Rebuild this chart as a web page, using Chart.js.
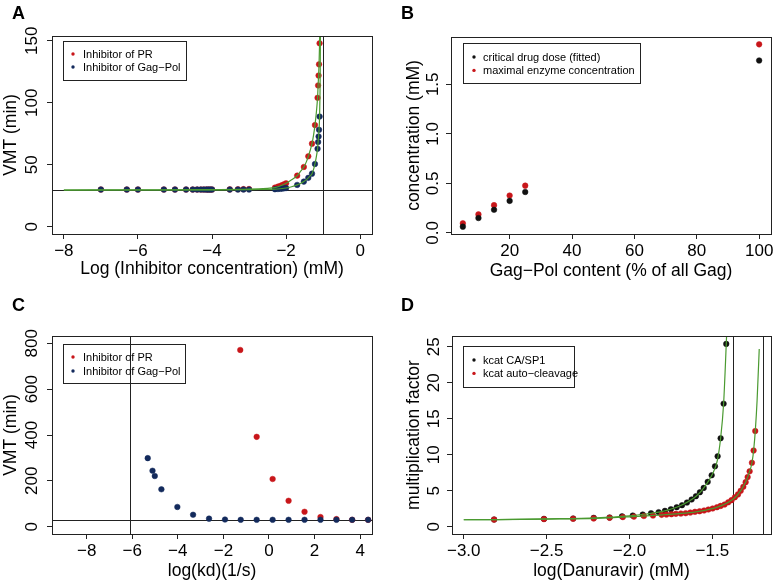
<!DOCTYPE html>
<html>
<head>
<meta charset="utf-8">
<script src="https://cdn.jsdelivr.net/npm/chart.js@4.4.1/dist/chart.umd.min.js"></script>
<style>
  body { margin: 0; background: #fff; }
  .panel { position: absolute; }
</style>
</head>
<body>
<div class="panel" style="left:0;top:0"><canvas id="chartA" width="389" height="292"></canvas></div>
<div class="panel" style="left:389px;top:0"><canvas id="chartB" width="388" height="292"></canvas></div>
<div class="panel" style="left:0;top:292px"><canvas id="chartC" width="389" height="292"></canvas></div>
<div class="panel" style="left:389px;top:292px"><canvas id="chartD" width="388" height="292"></canvas></div>
<script>
// --- Panel A: VMT vs log inhibitor concentration ---
const aConc = [-7.0, -6.3, -6.0, -5.3, -5.0, -4.7, -4.52, -4.4, -4.3, -4.22, -4.15, -4.1, -4.05, -4.0,
  -3.52, -3.3, -3.15, -3.0, -2.3, -2.22, -2.15, -2.1, -2.05, -2.0,
  -1.70, -1.52, -1.40, -1.30, -1.22, -1.15, -1.135, -1.122, -1.11, -1.095];
const aVmtPR = [30, 30, 30, 30, 30, 30, 30, 30, 30, 30, 30, 30, 30, 30,
  30.1, 30.2, 30.3, 30.4, 31.5, 32.3, 33.0, 33.6, 34.3, 35.0,
  41.2, 48.2, 56.8, 67.0, 82.0, 104, 114, 122, 131, 148];
const aVmtGP = [30, 30, 30, 30, 30, 30, 30, 30, 30, 30, 30, 30, 30, 30,
  30, 30, 30, 30, 30.2, 30.4, 30.6, 30.8, 31.0, 31.2,
  33.7, 36.4, 39.4, 42.8, 50.6, 62.9, 68.3, 72.8, 78.2, 88.9];
const aFitPRx = [-8, -6, -4, -3, -2.5, -2.3, -2.15, -2.0, -1.85, -1.70, -1.60, -1.52, -1.45, -1.40, -1.35,
  -1.30, -1.26, -1.22, -1.18, -1.15, -1.135, -1.122, -1.11, -1.095, -1.085];
const aFitPRy = [29.6, 29.7, 29.9, 30.3, 31.0, 31.5, 33.0, 35.0, 37.8, 41.2, 45.0, 48.2, 52.5, 56.8, 61.5,
  67.0, 73.5, 82.0, 93.0, 104, 114, 122, 131, 148, 165];
const aFitGPx = [-8, -6, -4, -3, -2.5, -2.3, -2.0, -1.85, -1.70, -1.60, -1.52, -1.45, -1.40, -1.35, -1.30,
  -1.26, -1.22, -1.18, -1.15, -1.135, -1.122, -1.11, -1.095, -1.085, -1.078, -1.072];
const aFitGPy = [29.5, 29.6, 29.7, 29.9, 30.1, 30.2, 31.2, 32.2, 33.7, 35.0, 36.4, 38.0, 39.4, 41.0, 42.8,
  46.0, 50.6, 57.0, 62.9, 68.3, 72.8, 78.2, 88.9, 105, 125, 160];
const aXTicks = [-8, -6, -4, -2, 0];
const aYTicks = [0, 50, 100, 150];
const aVLines = [-1.0];
const aHLines = [30];

// --- Panel B: concentration vs Gag-Pol content ---
const bGagPol = [5, 10, 15, 20, 25, 100];
const bCritical = [0.063, 0.15, 0.233, 0.323, 0.413, 1.74];
const bMaxEnzyme = [0.097, 0.187, 0.28, 0.377, 0.477, 1.903];
const bXTicks = [20, 40, 60, 80, 100];
const bYTicks = [0, 0.5, 1.0, 1.5];

// --- Panel C: VMT vs log(kd) ---
const cKdGP = [-5.32, -5.11, -5.01, -4.72, -4.02, -3.33, -2.63, -1.93, -1.24, -0.54, 0.16, 0.86, 1.56, 2.26, 2.96, 3.65, 4.35];
const cVmtGP = [299, 244, 221, 163, 86, 52, 35, 31, 30, 30, 30, 30, 30, 30, 30, 30, 30];
const cKdPR = [-1.26, -0.54, 0.16, 0.86, 1.56, 2.26, 2.96, 3.65, 4.35];
const cVmtPR = [771, 392, 208, 113, 65, 42, 33, 30, 30];
const cXTicks = [-8, -6, -4, -2, 0, 2, 4];
const cYTicks = [0, 200, 400, 600, 800];
const cVLines = [-6.1];
const cHLines = [30];

// --- Panel D: multiplication factor vs log(Danuravir) ---
const dDrugCA = [-2.817, -2.516, -2.34, -2.216, -2.12, -2.045, -1.98, -1.92, -1.87, -1.824, -1.786, -1.75, -1.715,
  -1.683, -1.653, -1.625, -1.599, -1.575, -1.552, -1.528, -1.504, -1.484, -1.468, -1.45, -1.432, -1.416];
const dFactorCA = [1.01, 1.10, 1.15, 1.24, 1.30, 1.45, 1.56, 1.70, 1.89, 2.03, 2.21, 2.44, 2.72,
  3.0, 3.37, 3.79, 4.25, 4.8, 5.4, 6.24, 7.16, 8.4, 9.8, 12.3, 17.1, 25.4];
const dDrugAC = [-2.817, -2.516, -2.34, -2.216, -2.12, -2.04, -1.973, -1.913, -1.858, -1.806, -1.777, -1.747,
  -1.72, -1.69, -1.661, -1.633, -1.605, -1.577, -1.55, -1.524, -1.498, -1.472, -1.45, -1.426, -1.404, -1.384,
  -1.364, -1.345, -1.329, -1.313, -1.299, -1.287, -1.275, -1.261, -1.251, -1.241];
const dFactorAC = [1.0, 1.07, 1.12, 1.17, 1.25, 1.35, 1.42, 1.5, 1.57, 1.66, 1.70, 1.75,
  1.80, 1.84, 1.89, 1.98, 2.08, 2.16, 2.26, 2.4, 2.54, 2.72, 2.9, 3.1, 3.4, 3.7,
  4.1, 4.5, 5.0, 5.55, 6.2, 6.9, 7.7, 8.9, 10.6, 13.3];
const dFitCAx = [-3.0, -2.8, -2.5, -2.2, -2.0, -1.9, -1.8, -1.7, -1.6, -1.55, -1.5, -1.47, -1.45, -1.432, -1.416, -1.408];
const dFitCAy = [0.98, 1.01, 1.1, 1.24, 1.52, 1.78, 2.14, 2.85, 4.2, 5.45, 7.3, 9.2, 12.3, 17.1, 25.4, 30];
const dFitACx = [-3.0, -2.8, -2.5, -2.2, -2.0, -1.8, -1.7, -1.6, -1.5, -1.45, -1.4, -1.35, -1.3, -1.28, -1.26,
  -1.25, -1.24, -1.23, -1.217];
const dFitACy = [0.98, 1.0, 1.07, 1.18, 1.39, 1.66, 1.83, 2.08, 2.53, 2.9, 3.45, 4.37, 6.15, 7.35, 9.0,
  10.8, 13.6, 17.5, 24.7];
const dXTicks = [-3.0, -2.5, -2.0, -1.5];
const dYTicks = [0, 5, 10, 15, 20, 25];
const dVLines = [-1.373, -1.195];

const FONT = "'Liberation Sans', Arial, Helvetica, sans-serif";
const RED = '#c8161a';
const NAVY = '#132a5c';
const BLACK = '#111111';
const GREEN = '#4a9a30';
const AXIS = '#222222';

Chart.defaults.font.family = FONT;
Chart.defaults.color = '#000';

function fmt(v, dec) {
  return (v < 0 ? '\u2212' : '') + Math.abs(v).toFixed(dec);
}

function pts(xs, ys) {
  return xs.map((x, i) => ({ x: x, y: ys[i] }));
}

function dots(label, xs, ys, color) {
  return {
    label: label,
    data: pts(xs, ys),
    backgroundColor: color,
    borderColor: color,
    borderWidth: 0.5,
    pointRadius: 2.8,
    pointHoverRadius: 2.8,
  };
}

function curve(xs, ys) {
  return {
    label: 'fit',
    data: pts(xs, ys),
    showLine: true,
    borderColor: GREEN,
    borderWidth: 1.2,
    pointRadius: 0,
    cubicInterpolationMode: 'monotone',
    fill: false,
  };
}

// R-like frame, rotated y labels, in-plot legend and panel letter
const rStyle = {
  id: 'rStyle',
  beforeDatasetsDraw(chart, args, opts) {
    const { ctx, chartArea: a, scales: { x, y } } = chart;
    ctx.save();
    ctx.strokeStyle = AXIS;
    ctx.lineWidth = 1;
    (opts.vLines || []).forEach((v) => {
      const px = Math.round(x.getPixelForValue(v)) + 0.5;
      ctx.beginPath();
      ctx.moveTo(px, a.top);
      ctx.lineTo(px, a.bottom);
      ctx.stroke();
    });
    (opts.hLines || []).forEach((v) => {
      const py = Math.round(y.getPixelForValue(v)) + 0.5;
      ctx.beginPath();
      ctx.moveTo(a.left, py);
      ctx.lineTo(a.right, py);
      ctx.stroke();
    });
    ctx.restore();
  },
  afterDraw(chart, args, opts) {
    const { ctx, chartArea: a, scales: { y } } = chart;
    ctx.save();
    ctx.strokeStyle = AXIS;
    ctx.lineWidth = 1;
    ctx.strokeRect(Math.round(a.left) + 0.5, Math.round(a.top) + 0.5,
      Math.round(a.right - a.left), Math.round(a.bottom - a.top));

    // y tick labels, parallel to the axis
    ctx.fillStyle = '#000';
    ctx.font = '17px ' + FONT;
    ctx.textAlign = 'center';
    ctx.textBaseline = 'middle';
    opts.yTicks.forEach((v) => {
      ctx.save();
      ctx.translate(a.left - opts.yLabelGap, y.getPixelForValue(v));
      ctx.rotate(-Math.PI / 2);
      ctx.fillText(fmt(v, opts.yDec), 0, 0);
      ctx.restore();
    });

    // legend box
    const L = opts.legend;
    ctx.strokeRect(L.x + 0.5, L.y + 0.5, L.w, L.h);
    ctx.font = '11px ' + FONT;
    ctx.textAlign = 'left';
    L.items.forEach((idx, i) => {
      const ds = chart.data.datasets[idx];
      const cy = L.y + L.row0 + i * L.step;
      ctx.fillStyle = ds.backgroundColor;
      ctx.beginPath();
      ctx.arc(L.x + L.dotX, cy, 1.7, 0, Math.PI * 2);
      ctx.fill();
      ctx.fillStyle = '#000';
      ctx.fillText(ds.label, L.x + L.textX, cy + 0.5);
    });

    // panel letter
    ctx.font = 'bold 18px ' + FONT;
    ctx.textBaseline = 'alphabetic';
    ctx.fillText(opts.letter, opts.letterX, opts.letterY);
    ctx.restore();
  },
};

function makeChart(id, datasets, o) {
  return new Chart(document.getElementById(id), {
    type: 'scatter',
    data: { datasets: datasets },
    plugins: [rStyle],
    options: {
      responsive: false,
      animation: false,
      devicePixelRatio: 1,
      layout: { padding: { top: o.padTop, right: o.padRight, left: 0, bottom: 0 } },
      plugins: {
        legend: { display: false },
        tooltip: { enabled: false },
        rStyle: {
          yTicks: o.yTicks,
          yDec: o.yDec,
          yLabelGap: o.yLabelGap,
          vLines: o.vLines,
          hLines: o.hLines,
          legend: o.legend,
          letter: o.letter,
          letterX: 12,
          letterY: 19,
        },
      },
      scales: {
        x: {
          type: 'linear',
          min: o.xMin,
          max: o.xMax,
          afterBuildTicks: (s) => { s.ticks = o.xTicks.map((v) => ({ value: v })); },
          afterFit: (s) => { s.height = o.xH; },
          grid: { drawOnChartArea: false, drawTicks: true, tickLength: 5, tickColor: AXIS, color: AXIS },
          border: { display: true, color: AXIS },
          ticks: {
            autoSkip: false,
            maxRotation: 0,
            padding: 2,
            color: '#000',
            font: { size: 17 },
            callback: (v) => fmt(v, o.xDec),
          },
          title: {
            display: true,
            text: o.xTitle,
            color: '#000',
            font: { size: 17.5 },
            padding: { top: 0, bottom: o.xTitlePad },
          },
        },
        y: {
          type: 'linear',
          min: o.yMin,
          max: o.yMax,
          afterBuildTicks: (s) => { s.ticks = o.yTicks.map((v) => ({ value: v })); },
          afterFit: (s) => { s.width = o.yW; },
          grid: { drawOnChartArea: false, drawTicks: true, tickLength: 5, tickColor: AXIS, color: AXIS },
          border: { display: true, color: AXIS },
          ticks: { display: false },
          title: {
            display: true,
            text: o.yTitle,
            color: '#000',
            font: { size: 17.5 },
            padding: { top: o.yTitlePad, bottom: 0 },
          },
        },
      },
    },
  });
}

// Panel A
makeChart('chartA', [
  curve(aFitPRx, aFitPRy),
  curve(aFitGPx, aFitGPy),
  dots('Inhibitor of Gag\u2212Pol', aConc, aVmtGP, NAVY),
  dots('Inhibitor of PR', aConc, aVmtPR, RED),
], {
  padTop: 36, padRight: 17, xH: 58, yW: 52,
  xMin: -8.32, xMax: 0.32, yMin: -5.9, yMax: 153.9,
  xTicks: aXTicks, yTicks: aYTicks, xDec: 0, yDec: 0, yLabelGap: 20,
  xTitle: 'Log (Inhibitor concentration) (mM)', yTitle: 'VMT (min)',
  xTitlePad: 12, yTitlePad: 1,
  vLines: aVLines, hLines: aHLines,
  legend: { x: 63, y: 41, w: 123, h: 39, row0: 13, step: 13, dotX: 10, textX: 20, items: [3, 2] },
  letter: 'A',
});

// Panel B
makeChart('chartB', [
  dots('critical drug dose (fitted)', bGagPol, bCritical, BLACK),
  dots('maximal enzyme concentration', bGagPol, bMaxEnzyme, RED),
], {
  padTop: 37, padRight: 6, xH: 58, yW: 62,
  xMin: 1.2, xMax: 103.8, yMin: -0.011, yMax: 1.977,
  xTicks: bXTicks, yTicks: bYTicks, xDec: 0, yDec: 1, yLabelGap: 18,
  xTitle: 'Gag\u2212Pol content (% of all Gag)', yTitle: 'concentration (mM)',
  xTitlePad: 10, yTitlePad: 15,
  vLines: [], hLines: [],
  legend: { x: 74, y: 43, w: 177, h: 40, row0: 14, step: 13.4, dotX: 11, textX: 20, items: [0, 1] },
  letter: 'B',
});

// Panel C
makeChart('chartC', [
  dots('Inhibitor of Gag\u2212Pol', cKdGP, cVmtGP, NAVY),
  dots('Inhibitor of PR', cKdPR, cVmtPR, RED),
], {
  padTop: 44, padRight: 17, xH: 50, yW: 52,
  xMin: -9.52, xMax: 4.52, yMin: -32, yMax: 832,
  xTicks: cXTicks, yTicks: cYTicks, xDec: 0, yDec: 0, yLabelGap: 20,
  xTitle: 'log(kd)(1/s)', yTitle: 'VMT (min)',
  xTitlePad: 2, yTitlePad: 1,
  vLines: cVLines, hLines: cHLines,
  legend: { x: 63, y: 52, w: 122, h: 39, row0: 13, step: 14, dotX: 10, textX: 20, items: [1, 0] },
  letter: 'C',
});

// Panel D
makeChart('chartD', [
  curve(dFitCAx, dFitCAy),
  curve(dFitACx, dFitACy),
  dots('kcat auto\u2212cleavage', dDrugAC, dFactorAC, RED),
  dots('kcat CA/SP1', dDrugCA, dFactorCA, BLACK),
], {
  padTop: 44, padRight: 6, xH: 50, yW: 63,
  xMin: -3.071, xMax: -1.146, yMin: -1.0, yMax: 26.5,
  xTicks: dXTicks, yTicks: dYTicks, xDec: 1, yDec: 0, yLabelGap: 18,
  xTitle: 'log(Danuravir) (mM)', yTitle: 'multiplication factor',
  xTitlePad: 2, yTitlePad: 15,
  vLines: dVLines, hLines: [],
  legend: { x: 74, y: 54, w: 111, h: 41, row0: 14, step: 13.4, dotX: 11, textX: 20, items: [3, 2] },
  letter: 'D',
});
</script>
</body>
</html>
